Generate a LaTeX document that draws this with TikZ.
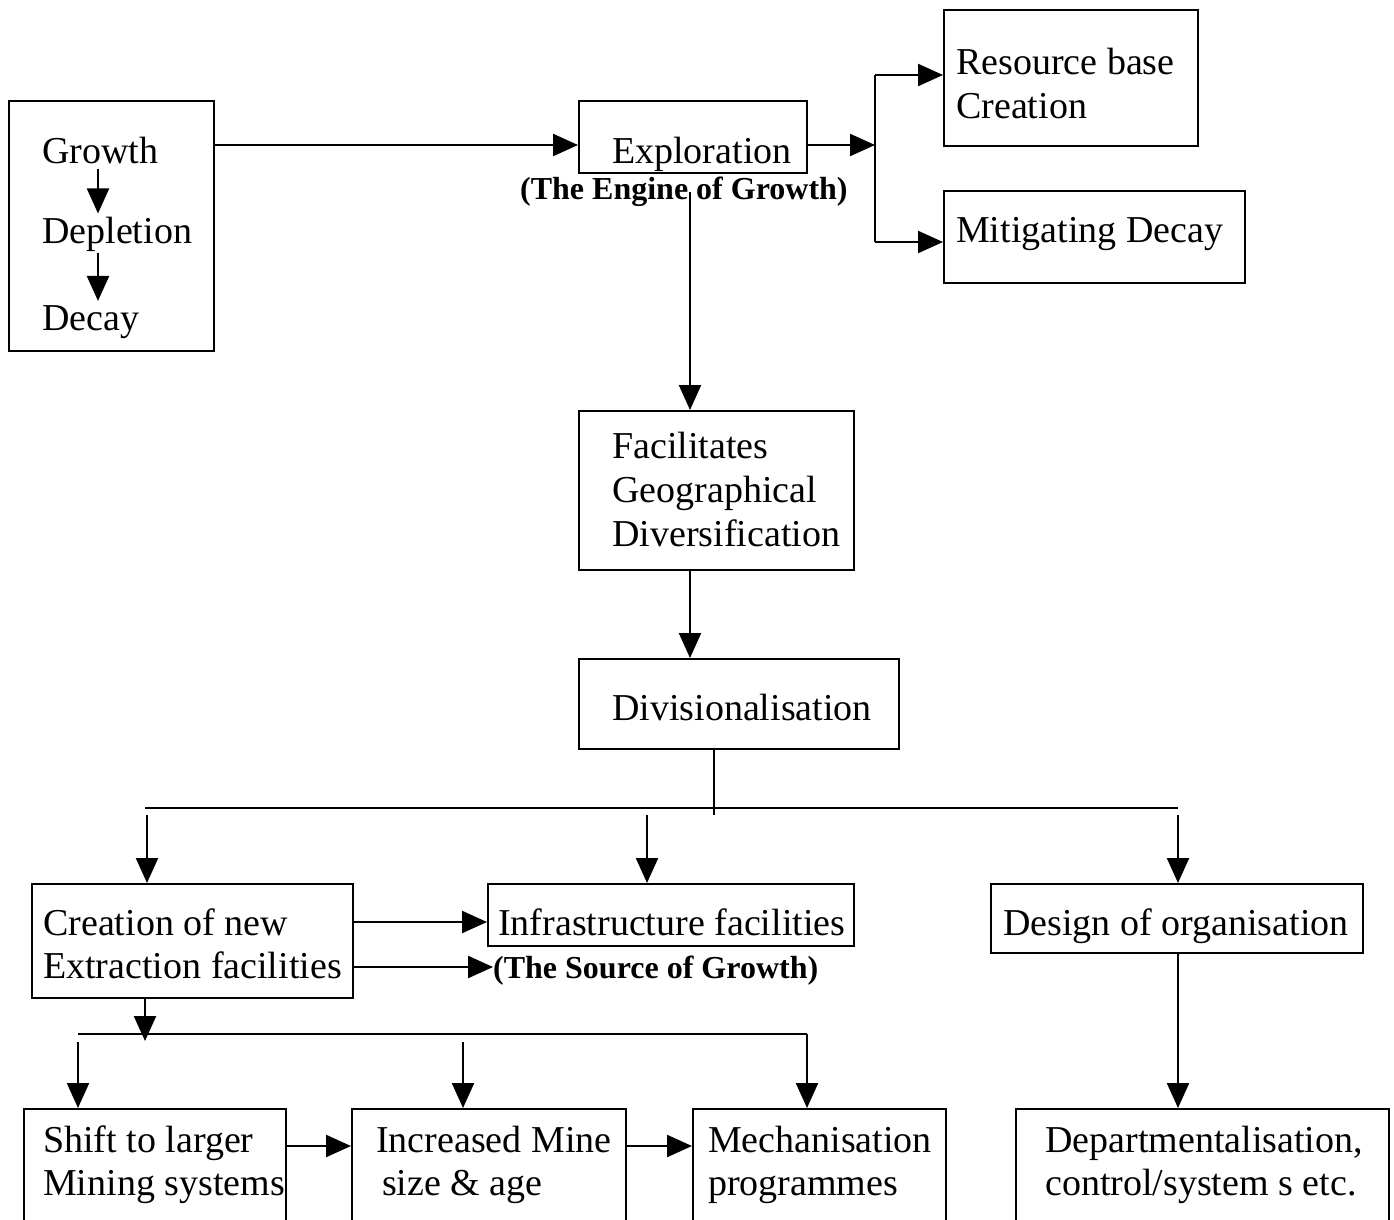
\documentclass[tikz,border=0pt]{standalone}
\usepackage{fontspec}
\setmainfont{Liberation Serif}
\usetikzlibrary{arrows.meta}
\begin{document}
\begin{tikzpicture}[x=1pt,y=-1pt,
 box/.style={draw, line width=2.3pt, rectangle, inner sep=0pt, anchor=north west},
 txt/.style={inner sep=0pt, anchor=base west, font=\fontsize{38}{43}\selectfont},
 lbl/.style={inner sep=0pt, anchor=base west, font=\bfseries\fontsize{32}{36}\selectfont},
 arr/.style={line width=2.3pt, -{Triangle[length=25pt,width=22pt]}},
 ln/.style={line width=2.3pt}]
\useasboundingbox (0,0) rectangle (1394,1220);
\clip (0,0) rectangle (1394,1220);
\fill[white] (0,0) rectangle (1394,1220);

% boxes
\node[box, minimum width=205pt, minimum height=250pt] (gbox) at (8,100) {};
\node[box, minimum width=228pt, minimum height=72pt] (expl) at (578,100) {};
\node[box, minimum width=254pt, minimum height=136pt] (res) at (943,9) {};
\node[box, minimum width=301pt, minimum height=92pt] (mit) at (943,190) {};
\node[box, minimum width=275pt, minimum height=159pt] (fac) at (578,410) {};
\node[box, minimum width=320pt, minimum height=90pt] (div) at (578,658) {};
\node[box, minimum width=321pt, minimum height=114pt] (cre) at (31,883) {};
\node[box, minimum width=366pt, minimum height=62pt] (inf) at (487,883) {};
\node[box, minimum width=372pt, minimum height=69pt] (des) at (990,883) {};
\node[box, minimum width=262pt, minimum height=140pt] (shi) at (23,1108) {};
\node[box, minimum width=274pt, minimum height=140pt] (inc) at (351,1108) {};
\node[box, minimum width=253pt, minimum height=140pt] (mec) at (692,1108) {};
\node[box, minimum width=373pt, minimum height=140pt] (dep) at (1015,1108) {};

% texts
\node[txt] (g1) at (42,163) {Growth};
\node[txt] (g2) at (42,243) {Depletion};
\node[txt] (g3) at (42,330) {Decay};
\node[txt] at (612,163) {Exploration};
\node[lbl] (eng) at (520,199) {(The Engine of Growth)};
\node[txt] at (956,75) {Resource base};
\node[txt] at (956,118) {Creation};
\node[txt] at (956,242) {Mitigating Decay};
\node[txt] at (612,458) {Facilitates};
\node[txt] at (612,502) {Geographical};
\node[txt] at (612,546) {Diversification};
\node[txt] at (612,720) {Divisionalisation};
\node[txt] at (43,935) {Creation of new};
\node[txt] at (43,978) {Extraction facilities};
\node[txt] at (498,935) {Infrastructure facilities};
\node[lbl] (src) at (493,978) {(The Source of Growth)};
\node[txt] at (1003,935) {Design of organisation};
\node[txt] at (43,1152) {Shift to larger};
\node[txt] at (43,1195) {Mining systems};
\node[txt] at (376,1152) {Increased Mine};
\node[txt] at (382,1195) {size \& age};
\node[txt] at (708,1152) {Mechanisation};
\node[txt] at (708,1195) {programmes};
\node[txt] at (1045,1152) {Departmentalisation,};
\node[txt] at (1045,1195) {control/system s etc.};

% junction coordinates
\coordinate (j1) at (875,145);
\coordinate (j1t) at (875,75);
\coordinate (j1b) at (875,242);
\coordinate (b1) at (714,808);
\coordinate (b2) at (145,1034);

% growth box inner arrows
\draw[arr] ([xshift=56pt,yshift=-5pt]g1.south west) -- ([xshift=56pt,yshift=3pt]g2.north west);
\draw[arr] ([xshift=56pt,yshift=-2pt]g2.south west) -- ([xshift=56pt,yshift=4pt]g3.north west);

% top connectors
\draw[arr] (gbox.east |- j1) -- (expl.west |- j1);
\draw[arr] (expl.east |- j1) -- (j1);
\draw[ln] (j1t) -- (j1b);
\draw[arr] (j1t) -- (res.west |- j1t);
\draw[arr] (j1b) -- (mit.west |- j1b);
\draw[arr] (690,192) -- (fac.north -| 690,0);
\draw[arr] (fac.south -| 690,0) -- (div.north -| 690,0);

% divisionalisation bus
\draw[ln] (div.south -| b1) -- ([yshift=-7pt]b1);
\draw[ln] (145,808) -- (1178,808);
\draw[arr] (147,815) -- (cre.north -| 147,0);
\draw[arr] (647,815) -- (inf.north -| 647,0);
\draw[arr] (1178,815) -- (des.north -| 1178,0);

% creation connectors
\draw[arr] (cre.east |- 0,922) -- (inf.west |- 0,922);
\draw[arr] (cre.east |- 0,967) -- (src.west |- 0,967);
\draw[arr] (cre.south -| b2) -- ([yshift=-7pt]b2);
\draw[ln] (78,1034) -- (807,1034);
\draw[arr] (78,1042) -- (shi.north -| 78,0);
\draw[arr] (463,1042) -- (inc.north -| 463,0);
\draw[arr] (807,1034) -- (mec.north -| 807,0);
\draw[arr] (des.south -| 1178,0) -- (dep.north -| 1178,0);

% bottom row
\draw[arr] (shi.east |- 0,1146) -- (inc.west |- 0,1146);
\draw[arr] (inc.east |- 0,1146) -- (mec.west |- 0,1146);
\end{tikzpicture}
\end{document}
